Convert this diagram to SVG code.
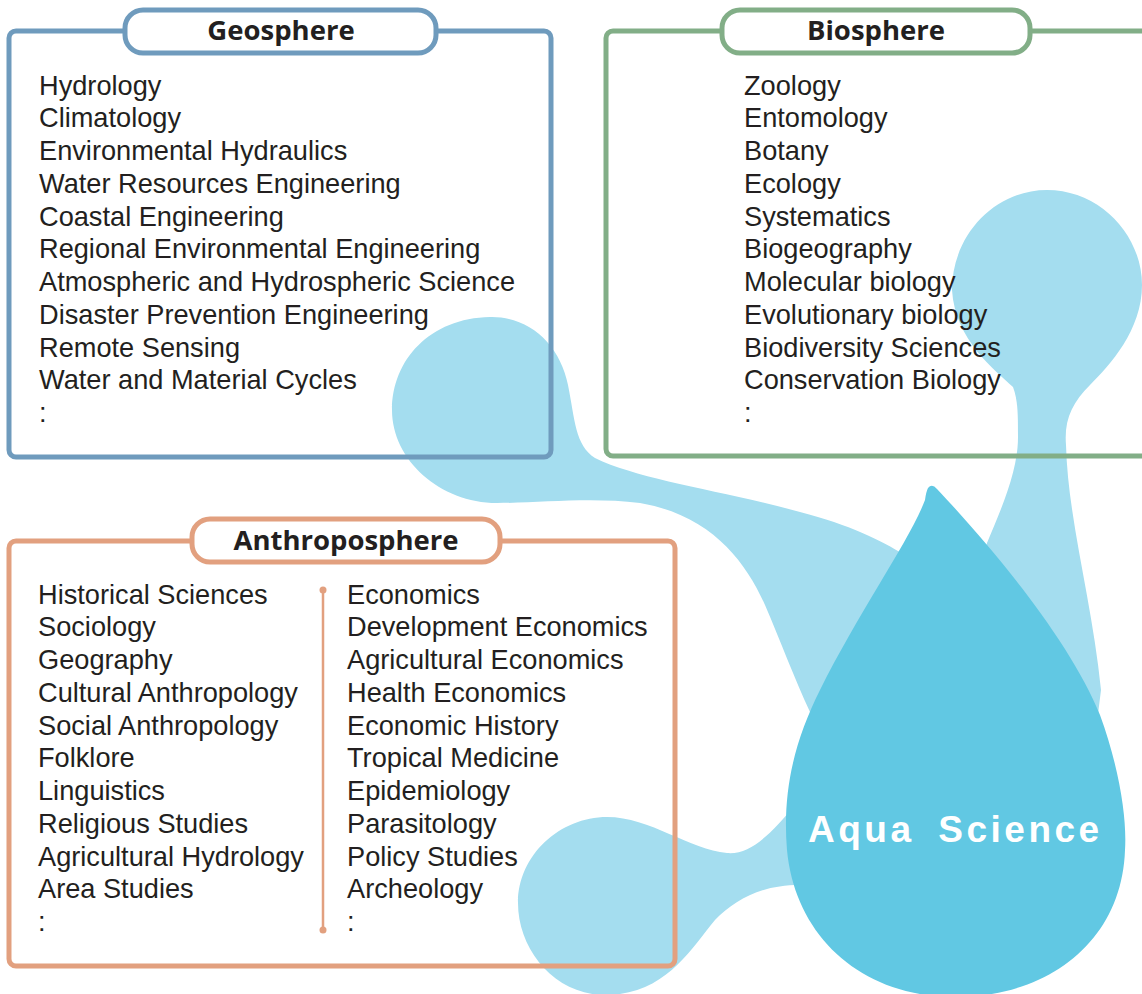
<svg xmlns="http://www.w3.org/2000/svg" width="1142" height="994" viewBox="0 0 1142 994">
<style>
.blob{fill:#a4ddef;}
.drop{fill:#61c8e3;}
.box{fill:none;stroke-width:5;}
.tab{fill:#ffffff;stroke-width:5;}
.geo{stroke:#6f9bbd;}
.bio{stroke:#82ae87;}
.ant{stroke:#e2a07f;}
.title{font-family:"Open Sans","Noto Sans","DejaVu Sans",sans-serif;font-weight:700;font-size:27.5px;fill:#231f20;text-anchor:middle;}
.item{font-family:"Liberation Sans",Arial,sans-serif;font-size:27.2px;fill:#231f20;}
.aqua{font-family:"Liberation Sans",Arial,sans-serif;font-weight:700;font-size:37px;fill:#ffffff;letter-spacing:3.5px;word-spacing:10px;}
</style>
<rect width="1142" height="994" fill="#ffffff"/>
<g id="connectors">
<path class="blob" d="M392,410 C392,360 430,318 490,317 C530,316 560,345 568,385 C575,420 575,445 595,458 C640,480 720,490 800,512 C850,525 880,540 905,555 L940,640 L810,712 C795,680 780,640 765,605 C745,560 710,515 640,503 C590,497 540,503 497,503 C440,503 392,460 392,410 Z"/>
<path class="blob" d="M1013,387 C995,370 955,340 952,290 C952,235 995,190 1047,190 C1100,190 1142,235 1142,285 C1142,330 1110,365 1090,385 C1072,403 1064,420 1066,445 C1068,520 1092,600 1101,690 L1096,730 L960,620 L987,543 C1003,505 1018,470 1018,437 C1018,415 1018,400 1013,387 Z"/>
<path class="blob" d="M518,903 C518,855 560,817 607,817 C650,817 690,850 727,853 C750,855 770,835 795,805 L830,890 L800,885 C760,885 735,900 715,920 C690,950 665,995 605,995 C555,995 518,950 518,903 Z"/>
</g>
<g id="aqua-science">
<path class="drop" d="M928,488 Q932,483 937,489 C990,545 1070,640 1100,715 C1120,770 1127,820 1125,850 C1122,940 1050,997 955,997 C860,997 795,935 787,850 C782,790 795,740 820,690 C860,610 910,540 925,500 Q926,492 928,488 Z"/>
<text class="aqua" x="808" y="842">Aqua Science</text>
</g>
<g id="geosphere">
<rect class="box geo" x="9" y="31" width="542" height="426" rx="7"/>
<rect class="tab geo" x="125" y="10" width="311" height="43" rx="18"/>
<text class="title" x="281" y="40">Geosphere</text>
<text class="item" x="39" y="94.5">Hydrology</text>
<text class="item" x="39" y="127.25">Climatology</text>
<text class="item" x="39" y="160">Environmental Hydraulics</text>
<text class="item" x="39" y="192.75">Water Resources Engineering</text>
<text class="item" x="39" y="225.5">Coastal Engineering</text>
<text class="item" x="39" y="258.25">Regional Environmental Engineering</text>
<text class="item" x="39" y="291">Atmospheric and Hydrospheric Science</text>
<text class="item" x="39" y="323.75">Disaster Prevention Engineering</text>
<text class="item" x="39" y="356.5">Remote Sensing</text>
<text class="item" x="39" y="389.25">Water and Material Cycles</text>
<text class="item" x="39" y="422">:</text>
</g>
<g id="biosphere">
<rect class="box bio" x="606" y="31" width="560" height="425" rx="7"/>
<rect class="tab bio" x="722" y="10" width="308" height="43" rx="18"/>
<text class="title" x="876" y="40">Biosphere</text>
<text class="item" x="744" y="94.5">Zoology</text>
<text class="item" x="744" y="127.25">Entomology</text>
<text class="item" x="744" y="160">Botany</text>
<text class="item" x="744" y="192.75">Ecology</text>
<text class="item" x="744" y="225.5">Systematics</text>
<text class="item" x="744" y="258.25">Biogeography</text>
<text class="item" x="744" y="291">Molecular biology</text>
<text class="item" x="744" y="323.75">Evolutionary biology</text>
<text class="item" x="744" y="356.5">Biodiversity Sciences</text>
<text class="item" x="744" y="389.25">Conservation Biology</text>
<text class="item" x="744" y="422">:</text>
</g>
<g id="anthroposphere">
<rect class="box ant" x="9" y="541" width="666" height="425" rx="7"/>
<rect class="tab ant" x="192" y="519" width="308" height="43" rx="18"/>
<text class="title" x="346" y="550">Anthroposphere</text>
<line x1="323" y1="590" x2="323" y2="930" stroke="#e2a07f" stroke-width="2.5"/>
<circle cx="323" cy="590" r="3.5" fill="#e2a07f"/>
<circle cx="323" cy="930" r="3.5" fill="#e2a07f"/>
<text class="item" x="38" y="603.5">Historical Sciences</text>
<text class="item" x="38" y="636.25">Sociology</text>
<text class="item" x="38" y="669">Geography</text>
<text class="item" x="38" y="701.75">Cultural Anthropology</text>
<text class="item" x="38" y="734.5">Social Anthropology</text>
<text class="item" x="38" y="767.25">Folklore</text>
<text class="item" x="38" y="800">Linguistics</text>
<text class="item" x="38" y="832.75">Religious Studies</text>
<text class="item" x="38" y="865.5">Agricultural Hydrology</text>
<text class="item" x="38" y="898.25">Area Studies</text>
<text class="item" x="38" y="931">:</text>
<text class="item" x="347" y="603.5">Economics</text>
<text class="item" x="347" y="636.25">Development Economics</text>
<text class="item" x="347" y="669">Agricultural Economics</text>
<text class="item" x="347" y="701.75">Health Economics</text>
<text class="item" x="347" y="734.5">Economic History</text>
<text class="item" x="347" y="767.25">Tropical Medicine</text>
<text class="item" x="347" y="800">Epidemiology</text>
<text class="item" x="347" y="832.75">Parasitology</text>
<text class="item" x="347" y="865.5">Policy Studies</text>
<text class="item" x="347" y="898.25">Archeology</text>
<text class="item" x="347" y="931">:</text>
</g>
</svg>
